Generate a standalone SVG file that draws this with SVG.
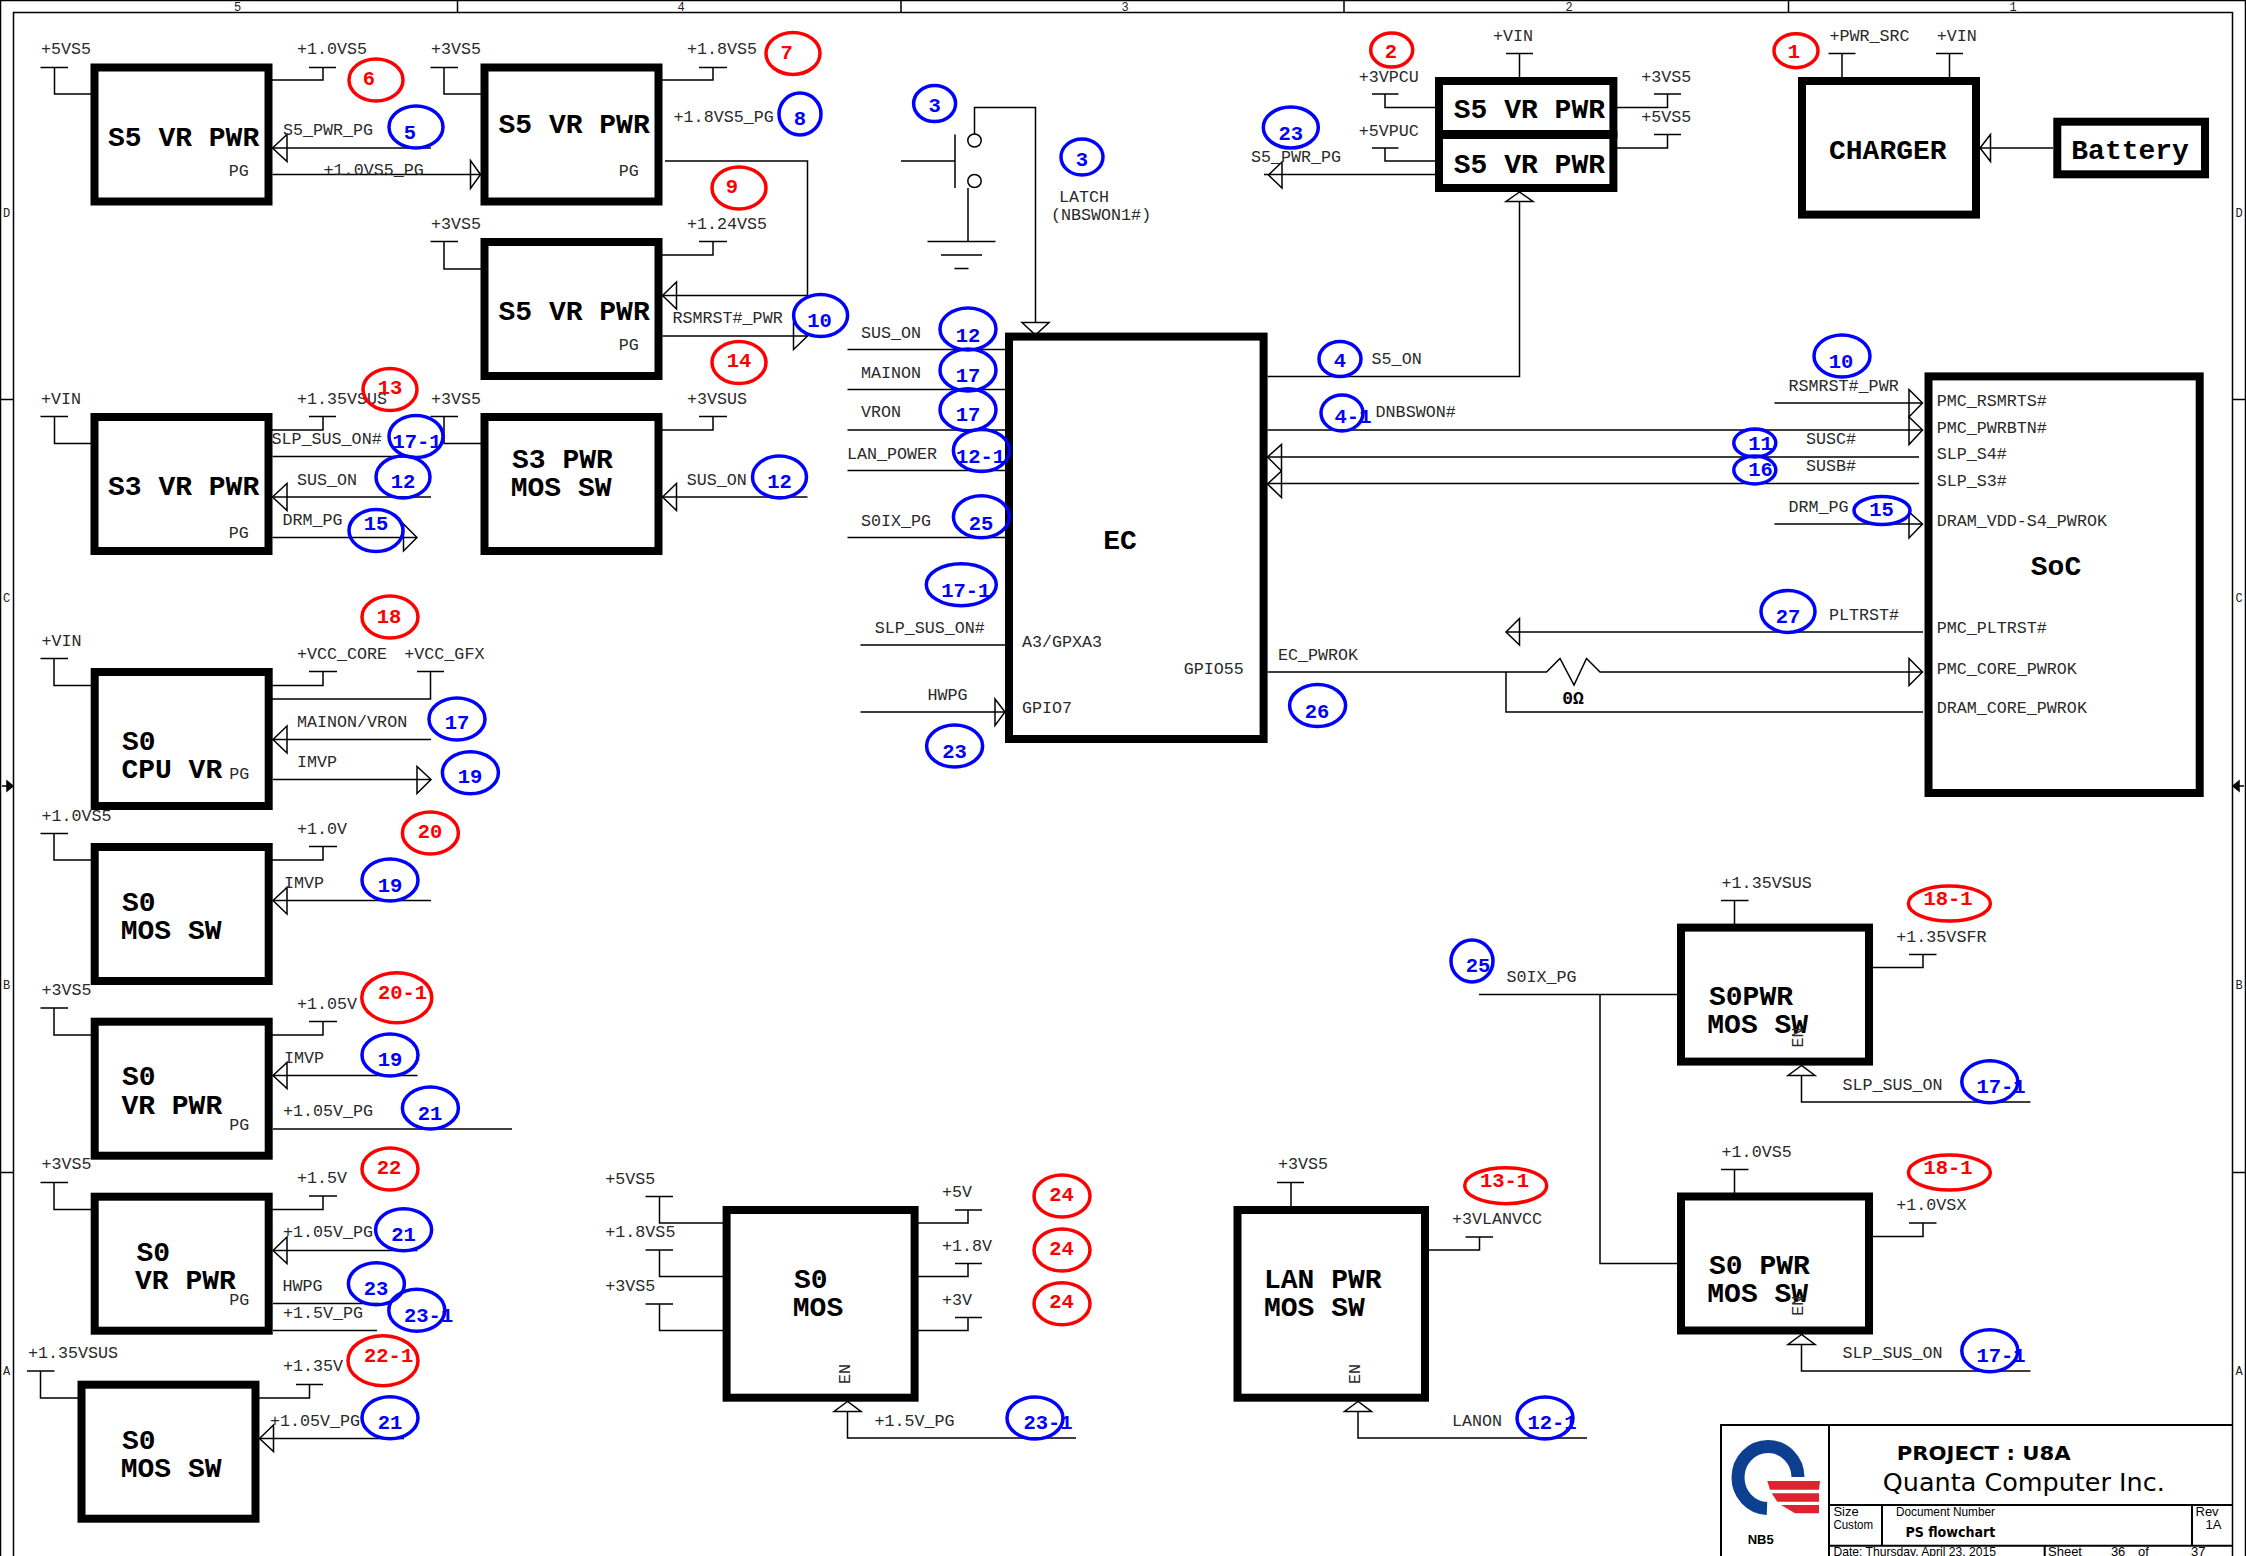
<svg xmlns="http://www.w3.org/2000/svg" width="2246" height="1556" viewBox="0 0 2246 1556">
<style>
text{font-family:"Liberation Mono",monospace}
.l{font-size:16.7px;fill:#2a2a2a}
.s{font-size:12px;fill:#222}
.b{font-size:28px;font-weight:bold;fill:#000}
.n{font-size:20.5px;font-weight:bold;text-anchor:middle}
.w{fill:none;stroke:#000;stroke-width:1.5}
.a{fill:none;stroke:#000;stroke-width:1.5}
.box{fill:#fff;stroke:#000;stroke-width:8}
.rc{fill:none;stroke:#f00;stroke-width:3.5}
.bc{fill:none;stroke:#00f;stroke-width:3.5}
.rn{fill:#f00}
.bn{fill:#00f}
.t{font-family:"Liberation Sans",sans-serif;font-size:13px;fill:#000}
.td{font-family:"DejaVu Sans",sans-serif;fill:#000}
</style>
<rect width="2246" height="1556" fill="#fff"/>
<g id="frame" class="w">
<path d="M0.5 1556V0.5H2245.5V1556M13.5 1556V12.5H2232.5V1556M0 399.5H13.5M0 1172.5H13.5M2232.5 399.5H2246M2232.5 1172.5H2246M457.5 0V12.5M901 0V12.5M1344 0V12.5M1788.5 0V12.5"/>
<path d="M2 786H8M2238 786H2244" />
<path d="M13 786L7 781V791Z" fill="#000"/>
<path d="M2233 786L2239 781V791Z" fill="#000"/>
</g>
<g id="frame-labels" class="s" text-anchor="middle">
<text class="s" x="237.5" y="11">5</text><text class="s" x="681" y="11">4</text><text class="s" x="1125" y="11">3</text><text class="s" x="1569" y="11">2</text><text class="s" x="2013" y="11">1</text>
<text class="s" x="6.5" y="217">D</text><text class="s" x="6.5" y="602">C</text><text class="s" x="6.5" y="989">B</text><text class="s" x="6.5" y="1375">A</text>
<text class="s" x="2239" y="217">D</text><text class="s" x="2239" y="602">C</text><text class="s" x="2239" y="989">B</text><text class="s" x="2239" y="1375">A</text>
</g>
<g id="connectors">
<!-- power stubs -->
<path class="w" d="M40.5 67.5H68M54.5 67.5V94H91M309 67.5H336M323 67.5V80H272"/>
<path class="w" d="M430.5 67.5H458M444 67.5V94H481M699 67.5H727M713 67.5V80H662"/>
<path class="w" d="M430.5 241.5H458M444 241.5V269H481M699 241.5H727M713 241.5V255H662"/>
<path class="w" d="M40.5 416.5H68M54.5 416.5V443.5H91M309 416.5H336M323 416.5V430H272"/>
<path class="w" d="M430.5 416.5H458M444 416.5V443.5H481M699 416.5H727M713 416.5V430H662"/>
<path class="w" d="M40.5 658.5H68M54 658.5V685.5H91M309 671.5H337M323 671.5V685.5H272M417 671.5H444M430.5 671.5V699H272"/>
<path class="w" d="M40.5 833.5H68M54 833.5V860H91M309 846.5H337M323 846.5V860H272"/>
<path class="w" d="M40.5 1008H68M54 1008V1035H91M309 1021.5H337M323 1021.5V1035H272"/>
<path class="w" d="M40.5 1182.5H68M54 1182.5V1209.5H91M309 1196H337M323 1196V1209.5H272"/>
<path class="w" d="M27 1371H54.5M40.5 1371V1398H78M296 1384.5H323M309.5 1384.5V1398H259"/>
<path class="w" d="M645.5 1196.5H673M659.5 1196.5V1223H723M645.5 1250H673M659.5 1250V1276.5H723M645.5 1304H673M659.5 1304V1330.5H723"/>
<path class="w" d="M955 1210H982M968 1210V1223H918M955 1263.5H982M968 1263.5V1276.5H918M955 1317.5H982M968 1317.5V1330.5H918"/>
<path class="w" d="M1277 1182.5H1304M1291 1182.5V1206M1465.5 1237H1493M1479.5 1237V1250H1429"/>
<path class="w" d="M1721 900.5H1748.5M1734.5 900.5V924M1909 954.5H1936.5M1923 954.5V967.5H1873"/>
<path class="w" d="M1721 1169.5H1748.5M1734.5 1169.5V1193M1909 1223H1936.5M1923 1223V1236.5H1873"/>
<path class="w" d="M1372 94H1398.5M1385 94V107.5H1436M1372 148H1398.5M1385 148V161H1436"/>
<path class="w" d="M1506 53.5H1533M1519.5 53.5V77M1654 94H1681M1667.5 94V107.5H1617M1654 134.5H1681M1667.5 134.5V148H1617"/>
<path class="w" d="M1828.5 53.5H1855.5M1842 53.5V77M1936 53.5H1963M1949.5 53.5V77"/>
<!-- signals -->
<path class="w" d="M431 148H272.5"/><path class="a" d="M272.5 148L287 134.5V161.5Z"/>
<path class="w" d="M272.5 174.5H480.5"/><path class="a" d="M480.5 174.5L470.5 160.5V188.5Z"/>
<path class="w" d="M665 161H807.5V295.5H662.5"/><path class="a" d="M662.5 295.5L676.5 282V309Z"/>
<path class="w" d="M662.5 336H807.5"/><path class="a" d="M807.5 336L793.5 323V349.5Z"/>
<path class="w" d="M272.5 456.5H415"/>
<path class="w" d="M431 497H272.5"/><path class="a" d="M272.5 497L287 483.5V510.5Z"/>
<path class="w" d="M272.5 537.5H417"/><path class="a" d="M417 537.5L403.5 524V551Z"/>
<path class="w" d="M807.5 497H662.5"/><path class="a" d="M662.5 497L676.5 483.5V510.5Z"/>
<path class="w" d="M431 739.5H273"/><path class="a" d="M273 739.5L287 726V753Z"/>
<path class="w" d="M273 779.5H431"/><path class="a" d="M431 779.5L417 766.5V793.5Z"/>
<path class="w" d="M431 900.5H273"/><path class="a" d="M273 900.5L287 887.5V914Z"/>
<path class="w" d="M417.5 1075.5H273"/><path class="a" d="M273 1075.5L287 1062.5V1088.5Z"/>
<path class="w" d="M273 1129H512"/>
<path class="w" d="M417.5 1250.5H273"/><path class="a" d="M273 1250.5L287 1237V1263.5Z"/>
<path class="w" d="M273 1303.5H379M273 1330.5H377"/>
<path class="w" d="M404 1438.5H259.5"/><path class="a" d="M259.5 1438.5L273.5 1425V1451.5Z"/>
<path class="w" d="M847.5 1411V1438H1076"/><path class="a" d="M847.5 1401.5L834 1411.5H861Z"/>
<path class="w" d="M1358 1411V1438H1587"/><path class="a" d="M1358 1401.5L1344.5 1411.5H1371.5Z"/>
<path class="w" d="M1801.5 1075V1102H2030.5"/><path class="a" d="M1801.5 1065.5L1788 1075.5H1815Z"/>
<path class="w" d="M1801.5 1344V1371H2030.5"/><path class="a" d="M1801.5 1334.5L1788 1344.5H1815Z"/>
<path class="w" d="M1479 994.5H1677M1600 994.5V1263.5H1677"/>
<!-- switch -->
<path class="w" d="M974.5 134V107.5H1035.5V323"/><path class="a" d="M1035.5 335L1022 322.5H1049Z"/>
<path class="w" d="M901 161H955M955 134.5V188M968 188V241.5M927.5 241.5H995.5M941 255H982M954.5 268.5H968.5"/>
<ellipse class="w" cx="974.5" cy="140.5" rx="6.7" ry="6.5" fill="#fff"/>
<ellipse class="w" cx="974.5" cy="181" rx="6.7" ry="6.5" fill="#fff"/>
<!-- EC left -->
<path class="w" d="M847.5 349.5H1005M847.5 389.5H1005M847.5 430H1005M847.5 470.5H1005M847.5 537.5H1005M860.5 645H1005M860.5 712H1005"/>
<path class="a" d="M1005 712L995 699V725.5Z"/>
<!-- EC right -->
<path class="w" d="M1267.5 376.5H1519.5V201"/><path class="a" d="M1519.5 192L1506 201.5H1533Z"/>
<path class="w" d="M1267.5 430H1922.5M1267.5 457H1919M1267.5 483.5H1919"/>
<path class="a" d="M1267.5 457L1281.5 444.5V471ZM1267.5 484L1281.5 471V497.5Z"/>
<path class="a" d="M1922.5 430L1909 417V444.5Z"/>
<path class="w" d="M1774.5 403H1922.5"/><path class="a" d="M1922.5 403L1909 389.5V417Z"/>
<path class="w" d="M1774.5 524H1922.5"/><path class="a" d="M1922.5 524L1909 512V538Z"/>
<path class="w" d="M1506 632H1923"/><path class="a" d="M1506 632L1519.5 618.5V645Z"/>
<path class="w" d="M1267.5 672H1546.5L1560 658.5L1574 685L1586.5 658.5L1600 672H1922.5"/><path class="a" d="M1922.5 672L1909 658.5V685.5Z"/>
<path class="w" d="M1506 672V712H1923"/>
<path class="w" d="M1437 174.5H1264"/><path class="a" d="M1268.5 175L1282 162V188Z"/>
<path class="w" d="M2053 148H1980"/><path class="a" d="M1980 148L1990.5 134.5V161.5Z"/>
</g>
<g id="n-s5-1"><rect class="box" x="94.5" y="67.5" width="174" height="134"/><text class="b" x="108" y="145.5">S5 VR PWR</text><text class="l" x="228.7" y="175.5">PG</text></g>
<g id="n-s5-2"><rect class="box" x="484.5" y="67.5" width="174" height="134"/><text class="b" x="498.5" y="132.5">S5 VR PWR</text><text class="l" x="618.8" y="175.5">PG</text></g>
<g id="n-s5-3"><rect class="box" x="484.5" y="242" width="174" height="134"/><text class="b" x="498.5" y="320">S5 VR PWR</text><text class="l" x="618.8" y="350">PG</text></g>
<g id="n-s3-vr"><rect class="box" x="94.5" y="417" width="174" height="134"/><text class="b" x="108" y="495">S3 VR PWR</text><text class="l" x="228.7" y="538">PG</text></g>
<g id="n-s3-mos"><rect class="box" x="484.5" y="417" width="174" height="134"/><text class="b" x="512" y="468">S3 PWR</text><text class="b" x="510.7" y="495.7">MOS SW</text></g>
<g id="n-cpu"><rect class="box" x="94.7" y="672" width="174" height="134"/><text class="b" x="122" y="750">S0</text><text class="b" x="121.4" y="778">CPU VR</text><text class="l" x="229.3" y="779.3">PG</text></g>
<g id="n-s0-mos-1"><rect class="box" x="94.7" y="847" width="174" height="134"/><text class="b" x="122" y="910.7">S0</text><text class="b" x="120.7" y="938.7">MOS SW</text></g>
<g id="n-s0-vr-1"><rect class="box" x="94.7" y="1021.7" width="174" height="134"/><text class="b" x="122" y="1085.3">S0</text><text class="b" x="121.4" y="1114">VR PWR</text><text class="l" x="229.3" y="1130">PG</text></g>
<g id="n-s0-vr-2"><rect class="box" x="94.7" y="1196.7" width="174" height="134"/><text class="b" x="136.4" y="1260.7">S0</text><text class="b" x="135" y="1289">VR PWR</text><text class="l" x="229.3" y="1304.7">PG</text></g>
<g id="n-s0-mos-2"><rect class="box" x="81.5" y="1384.7" width="174" height="134"/><text class="b" x="122" y="1448.7">S0</text><text class="b" x="120.7" y="1476.7">MOS SW</text></g>
<g id="n-s0-mos-c"><rect class="box" x="726.6" y="1210" width="188" height="187.7"/><text class="b" x="794" y="1287.7">S0</text><text class="b" x="792.8" y="1315.7">MOS</text><text class="l" transform="translate(849.5 1384) rotate(-90)">EN</text></g>
<g id="n-lan"><rect class="box" x="1237.5" y="1210" width="187.5" height="187.7"/><text class="b" x="1264" y="1287.7">LAN PWR</text><text class="b" x="1264" y="1315.7">MOS SW</text><text class="l" transform="translate(1360 1384) rotate(-90)">EN</text></g>
<g id="n-s0pwr"><rect class="box" x="1681" y="927.6" width="188" height="134"/><text class="b" x="1709" y="1004.6">S0PWR</text><text class="b" x="1707.3" y="1032.9">MOS SW</text><text class="l" transform="translate(1803 1047.5) rotate(-90)">EN</text></g>
<g id="n-s0-pwr"><rect class="box" x="1681" y="1196.5" width="188" height="134"/><text class="b" x="1709" y="1273.6">S0 PWR</text><text class="b" x="1707.3" y="1301.8">MOS SW</text><text class="l" transform="translate(1803 1315.7) rotate(-90)">EN</text></g>
<g id="n-ec"><rect class="box" x="1009" y="336.6" width="254.6" height="402.4"/><text class="b" x="1120" y="548.5" text-anchor="middle">EC</text><text class="l" x="1022" y="646.5">A3/GPXA3</text><text class="l" x="1183.7" y="673.5">GPIO55</text><text class="l" x="1022" y="713">GPIO7</text></g>
<g id="n-soc"><rect class="box" x="1928.5" y="376.4" width="271.2" height="416.6"/><text class="b" x="2056" y="575.3" text-anchor="middle">SoC</text>
<text class="l" x="1936.7" y="406">PMC_RSMRTS#</text><text class="l" x="1936.7" y="433">PMC_PWRBTN#</text><text class="l" x="1936.7" y="458.7">SLP_S4#</text><text class="l" x="1936.7" y="486">SLP_S3#</text><text class="l" x="1936.7" y="525.6">DRAM_VDD-S4_PWROK</text><text class="l" x="1936.7" y="632.8">PMC_PLTRST#</text><text class="l" x="1936.7" y="673.6">PMC_CORE_PWROK</text><text class="l" x="1936.7" y="713.4">DRAM_CORE_PWROK</text></g>
<g id="n-s5-top"><rect class="box" x="1439" y="81" width="174.4" height="53"/><text class="b" x="1453.8" y="118">S5 VR PWR</text></g>
<g id="n-s5-bot"><rect class="box" x="1439" y="135" width="174.4" height="53"/><text class="b" x="1453.8" y="172.5">S5 VR PWR</text></g>
<g id="n-charger"><rect class="box" x="1802" y="81" width="174" height="133.6"/><text class="b" x="1829" y="158.5">CHARGER</text></g>
<g id="n-battery"><rect class="box" x="2057.3" y="121.7" width="147.7" height="52.6"/><text class="b" x="2071.3" y="158.5">Battery</text></g>
<g id="labels">
<text class="l" x="41" y="54">+5VS5</text><text class="l" x="297" y="54">+1.0VS5</text><text class="l" x="431" y="54">+3VS5</text><text class="l" x="687" y="54">+1.8VS5</text>
<text class="l" x="673.6" y="121.7">+1.8VS5_PG</text><text class="l" x="283" y="135">S5_PWR_PG</text><text class="l" x="323.6" y="175">+1.0VS5_PG</text>
<text class="l" x="431" y="229">+3VS5</text><text class="l" x="687" y="229">+1.24VS5</text><text class="l" x="672.5" y="323">RSMRST#_PWR</text>
<text class="l" x="41" y="403.6">+VIN</text><text class="l" x="297" y="403.6">+1.35VSUS</text><text class="l" x="431" y="403.6">+3VS5</text><text class="l" x="687" y="403.6">+3VSUS</text>
<text class="l" x="271.5" y="444.3">SLP_SUS_ON#</text><text class="l" x="297" y="485">SUS_ON</text><text class="l" x="282.5" y="525">DRM_PG</text><text class="l" x="686.8" y="485">SUS_ON</text>
<text class="l" x="41.4" y="645.7">+VIN</text><text class="l" x="297" y="659">+VCC_CORE</text><text class="l" x="404.3" y="659">+VCC_GFX</text><text class="l" x="297" y="727">MAINON/VRON</text><text class="l" x="297" y="767">IMVP</text>
<text class="l" x="41.4" y="821">+1.0VS5</text><text class="l" x="297" y="834">+1.0V</text><text class="l" x="284" y="888">IMVP</text>
<text class="l" x="41.4" y="994.7">+3VS5</text><text class="l" x="297" y="1008.7">+1.05V</text><text class="l" x="284" y="1062.7">IMVP</text><text class="l" x="283" y="1116">+1.05V_PG</text>
<text class="l" x="41.4" y="1169.3">+3VS5</text><text class="l" x="297" y="1183.3">+1.5V</text><text class="l" x="283" y="1236.7">+1.05V_PG</text><text class="l" x="282.5" y="1290.7">HWPG</text><text class="l" x="283" y="1317.7">+1.5V_PG</text>
<text class="l" x="27.9" y="1357.7">+1.35VSUS</text><text class="l" x="283" y="1371.3">+1.35V</text><text class="l" x="270" y="1425.7">+1.05V_PG</text>
<text class="l" x="605.3" y="1184">+5VS5</text><text class="l" x="605.3" y="1237">+1.8VS5</text><text class="l" x="605.3" y="1290.7">+3VS5</text><text class="l" x="942" y="1197">+5V</text><text class="l" x="942" y="1250.7">+1.8V</text><text class="l" x="942" y="1304.7">+3V</text><text class="l" x="874.4" y="1425.7">+1.5V_PG</text>
<text class="l" x="1278" y="1169.3">+3VS5</text><text class="l" x="1452" y="1223.7">+3VLANVCC</text><text class="l" x="1452" y="1425.7">LANON</text>
<text class="l" x="1721.6" y="888">+1.35VSUS</text><text class="l" x="1896.3" y="942">+1.35VSFR</text><text class="l" x="1506.5" y="982">S0IX_PG</text><text class="l" x="1842.4" y="1090">SLP_SUS_ON</text>
<text class="l" x="1721.6" y="1157">+1.0VS5</text><text class="l" x="1896.3" y="1210">+1.0VSX</text><text class="l" x="1842.4" y="1358">SLP_SUS_ON</text>
<text class="l" x="1059" y="202">LATCH</text><text class="l" x="1051" y="220.4">(NBSWON1#)</text>
<text class="l" x="1358.7" y="81.6">+3VPCU</text><text class="l" x="1358.7" y="135.7">+5VPUC</text><text class="l" x="1251" y="162">S5_PWR_PG</text><text class="l" x="1493" y="41">+VIN</text><text class="l" x="1641.3" y="81.6">+3VS5</text><text class="l" x="1641.3" y="122.4">+5VS5</text>
<text class="l" x="1829.5" y="41.3">+PWR_SRC</text><text class="l" x="1936.7" y="41.3">+VIN</text>
<text class="l" x="861" y="337.8">SUS_ON</text><text class="l" x="861" y="377.5">MAINON</text><text class="l" x="861" y="417">VRON</text><text class="l" x="847" y="458.7">LAN_POWER</text><text class="l" x="861" y="525.5">S0IX_PG</text><text class="l" x="874.7" y="632.6">SLP_SUS_ON#</text><text class="l" x="927.4" y="700">HWPG</text>
<text class="l" x="1371.6" y="364">S5_ON</text><text class="l" x="1375.6" y="417">DNBSWON#</text><text class="l" x="1278" y="659.7">EC_PWROK</text>
<text class="l" x="1788.5" y="390.7">RSMRST#_PWR</text><text class="l" x="1806" y="443.5">SUSC#</text><text class="l" x="1806" y="470.7">SUSB#</text><text class="l" x="1788.5" y="511.5">DRM_PG</text><text class="l" x="1829" y="619.8">PLTRST#</text>
<text x="1573" y="704" font-size="18" font-weight="bold" text-anchor="middle">0Ω</text>
</g>
<g id="callouts">
<g id="c1"><ellipse class="rc" cx="1796" cy="50.7" rx="22" ry="17"/><text class="n rn" x="1794" y="57.5">1</text></g>
<g id="c2"><ellipse class="rc" cx="1391.7" cy="50" rx="21" ry="17"/><text class="n rn" x="1391" y="57.6">2</text></g>
<g id="c3a"><ellipse class="bc" cx="934.6" cy="103.6" rx="21" ry="18"/><text class="n bn" x="934.6" y="112">3</text></g>
<g id="c3b"><ellipse class="bc" cx="1082" cy="157" rx="21" ry="18"/><text class="n bn" x="1082" y="166">3</text></g>
<g id="c4"><ellipse class="bc" cx="1340" cy="359" rx="21" ry="17.5"/><text class="n bn" x="1340" y="367">4</text></g>
<g id="c4-1"><ellipse class="bc" cx="1342" cy="413" rx="21" ry="18"/><text class="n bn" x="1353" y="422.5">4-1</text></g>
<g id="c5"><ellipse class="bc" cx="416" cy="127" rx="27" ry="21"/><text class="n bn" x="410" y="139">5</text></g>
<g id="c6"><ellipse class="rc" cx="376" cy="80" rx="27" ry="21"/><text class="n rn" x="369" y="85">6</text></g>
<g id="c7"><ellipse class="rc" cx="793" cy="53.4" rx="27" ry="21"/><text class="n rn" x="786.6" y="58.5">7</text></g>
<g id="c8"><ellipse class="bc" cx="800" cy="114" rx="21" ry="21"/><text class="n bn" x="800" y="125">8</text></g>
<g id="c9"><ellipse class="rc" cx="739" cy="188" rx="27" ry="21"/><text class="n rn" x="732" y="193">9</text></g>
<g id="c10a"><ellipse class="bc" cx="820.6" cy="315.5" rx="27" ry="21"/><text class="n bn" x="819.5" y="326.5">10</text></g>
<g id="c10b"><ellipse class="bc" cx="1842" cy="356" rx="28" ry="21"/><text class="n bn" x="1841" y="367.7">10</text></g>
<g id="c11"><ellipse class="bc" cx="1754.8" cy="443" rx="21" ry="14"/><text class="n bn" x="1760.6" y="450">11</text></g>
<g id="c12a"><ellipse class="bc" cx="403" cy="477" rx="27" ry="21"/><text class="n bn" x="403" y="488">12</text></g>
<g id="c12b"><ellipse class="bc" cx="779.5" cy="477" rx="27" ry="21"/><text class="n bn" x="779.5" y="488">12</text></g>
<g id="c12c"><ellipse class="bc" cx="968" cy="329" rx="28" ry="21"/><text class="n bn" x="968" y="342">12</text></g>
<g id="c12-1a"><ellipse class="bc" cx="981.4" cy="450.5" rx="28" ry="21"/><text class="n bn" x="980.5" y="463">12-1</text></g>
<g id="c12-1b"><ellipse class="bc" cx="1545" cy="1418" rx="28" ry="21"/><text class="n bn" x="1552" y="1428.7">12-1</text></g>
<g id="c13"><ellipse class="rc" cx="390" cy="389.5" rx="27" ry="21"/><text class="n rn" x="390" y="394">13</text></g>
<g id="c13-1"><ellipse class="rc" cx="1505.7" cy="1185.7" rx="41" ry="18"/><text class="n rn" x="1504.5" y="1187">13-1</text></g>
<g id="c14"><ellipse class="rc" cx="739" cy="362.5" rx="27" ry="21"/><text class="n rn" x="739" y="367">14</text></g>
<g id="c15a"><ellipse class="bc" cx="376" cy="530.6" rx="27" ry="21"/><text class="n bn" x="376" y="529.5">15</text></g>
<g id="c15b"><ellipse class="bc" cx="1882" cy="510.5" rx="28" ry="14"/><text class="n bn" x="1881.5" y="515.7">15</text></g>
<g id="c16"><ellipse class="bc" cx="1754.8" cy="470" rx="21" ry="14"/><text class="n bn" x="1760.6" y="476">16</text></g>
<g id="c17a"><ellipse class="bc" cx="968" cy="370" rx="28" ry="21"/><text class="n bn" x="968" y="381.6">17</text></g>
<g id="c17b"><ellipse class="bc" cx="968" cy="409.7" rx="28" ry="21"/><text class="n bn" x="968" y="421.4">17</text></g>
<g id="c17c"><ellipse class="bc" cx="457" cy="719" rx="28" ry="21"/><text class="n bn" x="457" y="729.3">17</text></g>
<g id="c17-1a"><ellipse class="bc" cx="416" cy="436.5" rx="27" ry="21"/><text class="n bn" x="417" y="447.5">17-1</text></g>
<g id="c17-1b"><ellipse class="bc" cx="961.3" cy="584.7" rx="35" ry="21"/><text class="n bn" x="965.8" y="597">17-1</text></g>
<g id="c17-1c"><ellipse class="bc" cx="1989.8" cy="1081.8" rx="28" ry="21"/><text class="n bn" x="2001" y="1092.9">17-1</text></g>
<g id="c17-1d"><ellipse class="bc" cx="1989.8" cy="1350.7" rx="28" ry="21"/><text class="n bn" x="2001" y="1361.8">17-1</text></g>
<g id="c18"><ellipse class="rc" cx="390" cy="617" rx="28" ry="21"/><text class="n rn" x="389" y="622.7">18</text></g>
<g id="c18-1a"><ellipse class="rc" cx="1949.4" cy="903.6" rx="41" ry="17.5"/><text class="n rn" x="1948" y="904.6">18-1</text></g>
<g id="c18-1b"><ellipse class="rc" cx="1949.4" cy="1172.5" rx="41" ry="17.5"/><text class="n rn" x="1948" y="1173.6">18-1</text></g>
<g id="c19a"><ellipse class="bc" cx="470.4" cy="772.7" rx="28" ry="21"/><text class="n bn" x="470" y="783">19</text></g>
<g id="c19b"><ellipse class="bc" cx="390" cy="880" rx="28" ry="21"/><text class="n bn" x="390" y="892">19</text></g>
<g id="c19c"><ellipse class="bc" cx="390" cy="1055" rx="28" ry="21"/><text class="n bn" x="390" y="1066">19</text></g>
<g id="c20"><ellipse class="rc" cx="430.4" cy="833" rx="28" ry="21"/><text class="n rn" x="430" y="838">20</text></g>
<g id="c20-1"><ellipse class="rc" cx="396.8" cy="997.7" rx="35" ry="25"/><text class="n rn" x="402.5" y="999.3">20-1</text></g>
<g id="c21a"><ellipse class="bc" cx="430.4" cy="1108" rx="28" ry="21"/><text class="n bn" x="430" y="1120">21</text></g>
<g id="c21b"><ellipse class="bc" cx="403.6" cy="1229.7" rx="28" ry="21"/><text class="n bn" x="403.6" y="1240.7">21</text></g>
<g id="c21c"><ellipse class="bc" cx="390" cy="1417.7" rx="28" ry="21"/><text class="n bn" x="390" y="1429">21</text></g>
<g id="c22"><ellipse class="rc" cx="390" cy="1169" rx="28" ry="21"/><text class="n rn" x="389" y="1174">22</text></g>
<g id="c22-1"><ellipse class="rc" cx="383" cy="1360.7" rx="35" ry="25"/><text class="n rn" x="388.6" y="1362">22-1</text></g>
<g id="c23a"><ellipse class="bc" cx="1290.8" cy="127.5" rx="27.5" ry="20.5"/><text class="n bn" x="1290.8" y="139.8">23</text></g>
<g id="c23b"><ellipse class="bc" cx="954.6" cy="746" rx="28" ry="21"/><text class="n bn" x="954.6" y="757.7">23</text></g>
<g id="c23c"><ellipse class="bc" cx="376.4" cy="1283.7" rx="28" ry="21"/><text class="n bn" x="376" y="1294.7">23</text></g>
<g id="c23-1a"><ellipse class="bc" cx="416.8" cy="1310.3" rx="28" ry="21"/><text class="n bn" x="428.6" y="1321.7">23-1</text></g>
<g id="c23-1b"><ellipse class="bc" cx="1035" cy="1418" rx="28" ry="21"/><text class="n bn" x="1048" y="1428.7">23-1</text></g>
<g id="c24a"><ellipse class="rc" cx="1062" cy="1196" rx="28" ry="21"/><text class="n rn" x="1061.6" y="1200.7">24</text></g>
<g id="c24b"><ellipse class="rc" cx="1062" cy="1250" rx="28" ry="21"/><text class="n rn" x="1061.6" y="1254.7">24</text></g>
<g id="c24c"><ellipse class="rc" cx="1062" cy="1303.7" rx="28" ry="21"/><text class="n rn" x="1061.6" y="1307.7">24</text></g>
<g id="c25a"><ellipse class="bc" cx="981.4" cy="516.8" rx="28" ry="21"/><text class="n bn" x="981" y="529.6">25</text></g>
<g id="c25b"><ellipse class="bc" cx="1472" cy="961" rx="21" ry="21"/><text class="n bn" x="1478" y="971.8">25</text></g>
<g id="c26"><ellipse class="bc" cx="1317.6" cy="705.6" rx="28" ry="21"/><text class="n bn" x="1317" y="718">26</text></g>
<g id="c27"><ellipse class="bc" cx="1788" cy="611.4" rx="27" ry="21"/><text class="n bn" x="1788" y="623">27</text></g>
</g>
<g id="title-block">
<path fill="none" stroke="#000" stroke-width="2" d="M1721 1556V1425H2232M1829 1425V1556M1829 1505H2232M1829 1545.7H2232M1882 1505V1545.7M2192 1505V1545.7M2044.7 1545.7V1556"/>
<path d="M1798 1477A30 31 0 1 0 1767 1508.5" fill="none" stroke="#0c3f8f" stroke-width="13"/>
<path fill="#e0212f" d="M1767.3 1481H1820L1819 1489.7H1770ZM1771.7 1493.3H1819V1501.7H1777.3ZM1781 1505H1819V1513.3H1795Z"/>
<text class="td" x="1896.7" y="1460" font-size="20" font-weight="bold" textLength="174" lengthAdjust="spacingAndGlyphs">PROJECT : U8A</text>
<text class="td" x="1882.8" y="1490.7" font-size="24" textLength="282" lengthAdjust="spacingAndGlyphs">Quanta Computer Inc.</text>
<text class="t" x="1833.4" y="1515.7">Size</text><text class="t" x="1833.4" y="1529.3" textLength="39.7" lengthAdjust="spacingAndGlyphs">Custom</text>
<text class="t" x="1896" y="1515.7" textLength="99" lengthAdjust="spacingAndGlyphs">Document Number</text>
<text class="td" x="1905.4" y="1537" font-size="13.5" font-weight="bold" textLength="90" lengthAdjust="spacingAndGlyphs">PS flowchart</text>
<text class="t" x="2195.5" y="1515.7">Rev</text><text class="t" x="2205.6" y="1529.3">1A</text>
<text class="t" x="1833.4" y="1555.5" textLength="162.6" lengthAdjust="spacingAndGlyphs">Date:   Thursday, April 23, 2015</text>
<text class="t" x="2048" y="1555.5">Sheet</text><text class="t" x="2110.9" y="1555.5">36</text><text class="t" x="2138" y="1555.5">of</text><text class="t" x="2191" y="1555.5">37</text>
<text class="t" x="1747.7" y="1544" font-weight="bold" font-size="12">NB5</text>
</g>
</svg>
